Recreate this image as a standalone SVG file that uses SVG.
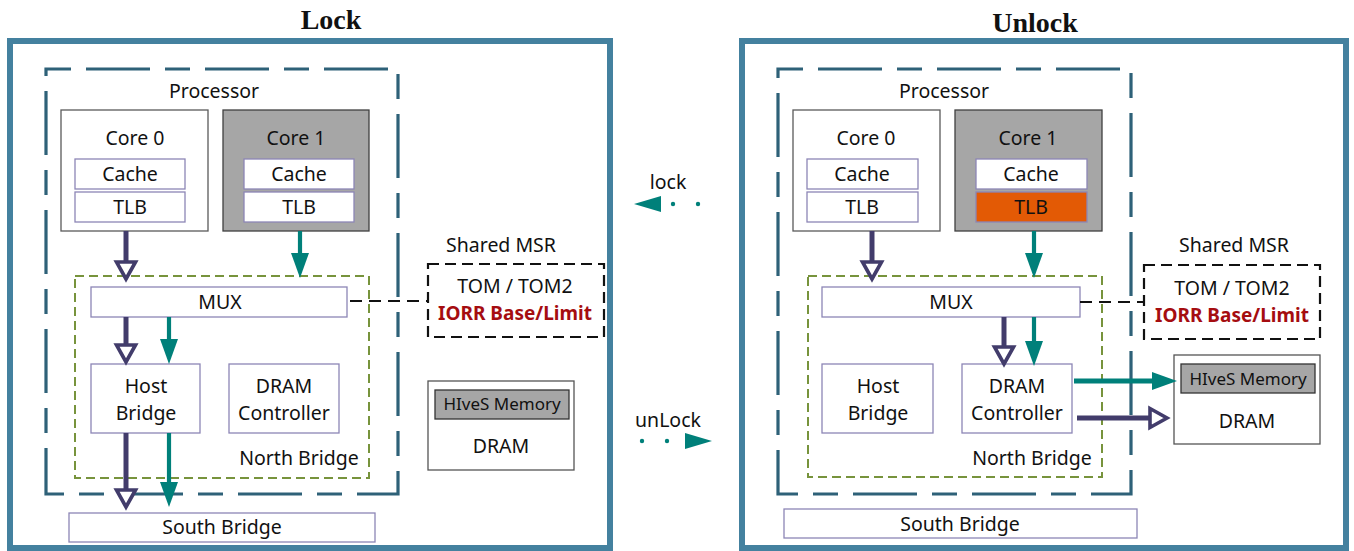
<svg xmlns="http://www.w3.org/2000/svg" width="1354" height="551" viewBox="0 0 1354 551">
<style>
.t{font-family:"Noto Sans","Liberation Sans",sans-serif;font-size:19.5px;fill:#111;text-anchor:middle}
.ttl{font-family:"Liberation Serif",serif;font-weight:bold;font-size:28px;fill:#111;text-anchor:middle}
.red{font-weight:bold;fill:#a50d10;font-size:19px}
.frame{fill:none;stroke:#44819f;stroke-width:6}
.proc{fill:none;stroke:#2e6178;stroke-width:3.2;stroke-dasharray:25 15 64 15}
.nb{fill:none;stroke:#77933c;stroke-width:2;stroke-dasharray:9 5}
.msr{fill:none;stroke:#111;stroke-width:2.2;stroke-dasharray:11 6}
.core0{fill:#fff;stroke:#5a5a5a;stroke-width:1.3}
.core1{fill:#a6a6a6;stroke:#404040;stroke-width:1.3}
.sub{fill:#fff;stroke:#8d86b6;stroke-width:1.3}
.orange{fill:#e35a05;stroke:#8d86b6;stroke-width:1.3}
.dram{fill:#fff;stroke:#555;stroke-width:1.3}
.hives{fill:#a6a6a6;stroke:#333;stroke-width:1.3}
.pa{stroke:#423c6b;stroke-width:5;fill:none;marker-end:url(#openP)}
.ta{stroke:#00807a;stroke-width:4.2;fill:none;marker-end:url(#fillT)}
.dash{stroke:#111;stroke-width:2.2;stroke-dasharray:12 7;fill:none}
.dot{fill:#00807a}
</style>
<defs>
<marker id="openP" markerUnits="userSpaceOnUse" viewBox="0 0 24 24" refX="2" refY="12" markerWidth="24" markerHeight="24" orient="auto" overflow="visible">
<path d="M2,2.5 L19,12 L2,21.5 Z" fill="#fff" stroke="#423c6b" stroke-width="3.6" stroke-linejoin="miter"/>
</marker>
<marker id="fillT" markerUnits="userSpaceOnUse" viewBox="0 0 25 18" refX="0" refY="9" markerWidth="25" markerHeight="18" orient="auto" overflow="visible">
<path d="M0,0 L25,9 L0,18 Z" fill="#00807a"/>
</marker>
</defs>

<text class="ttl" x="331" y="29">Lock</text>
<text class="ttl" x="1035" y="32">Unlock</text>

<!-- LEFT PANEL -->
<g id="lock-frame"><rect class="frame" x="10" y="41" width="600" height="507"/></g>
<g id="L-processor"><rect class="proc" x="46" y="69" width="352" height="425"/><text class="t" x="214" y="98">Processor</text></g>
<g id="L-core0"><rect class="core0" x="61" y="110" width="147" height="121"/><text class="t" x="135" y="145">Core 0</text></g>
<g id="L-core0-cache"><rect class="sub" x="75" y="159" width="110" height="30"/><text class="t" x="130" y="181">Cache</text></g>
<g id="L-core0-tlb"><rect class="sub" x="75" y="192" width="110" height="30"/><text class="t" x="130" y="214">TLB</text></g>
<g id="L-core1"><rect class="core1" x="223" y="110" width="146" height="121"/><text class="t" x="296" y="145">Core 1</text></g>
<g id="L-core1-cache"><rect class="sub" x="244" y="159" width="110" height="30"/><text class="t" x="299" y="181">Cache</text></g>
<g id="L-core1-tlb"><rect class="sub" x="244" y="192" width="110" height="30"/><text class="t" x="299" y="214">TLB</text></g>
<g id="L-northbridge"><rect class="nb" x="75" y="276" width="294" height="202"/><text class="t" x="299" y="465">North Bridge</text></g>
<g id="L-mux"><rect class="sub" x="91" y="287" width="256" height="30"/><text class="t" x="220" y="309">MUX</text></g>
<g id="L-host"><rect class="sub" x="91" y="364" width="109" height="69"/><text class="t" x="146" y="393">Host</text><text class="t" x="146" y="420">Bridge</text></g>
<g id="L-dramctrl"><rect class="sub" x="229" y="364" width="110" height="69"/><text class="t" x="284" y="393">DRAM</text><text class="t" x="284" y="420">Controller</text></g>
<g id="L-south"><rect class="sub" x="69" y="513" width="306" height="29"/><text class="t" x="222" y="534">South Bridge</text></g>
<g id="L-msr"><text class="t" x="501" y="252">Shared MSR</text><rect class="msr" x="428" y="264" width="176" height="73"/><text class="t" x="515" y="293">TOM / TOM2</text><text class="t red" x="515" y="320">IORR Base/Limit</text></g>
<g id="L-dram"><rect class="dram" x="428" y="381" width="146" height="89"/><rect class="hives" x="435" y="390" width="134" height="29"/><text class="t" x="502" y="410" style="font-size:17px">HIveS Memory</text><text class="t" x="501" y="453">DRAM</text></g>

<!-- MIDDLE -->
<g id="lock-transition"><text class="t" x="668" y="189">lock</text><path d="M634,204 L661,196 L661,212 Z" class="dot"/><circle class="dot" cx="673" cy="204" r="2.2"/><circle class="dot" cx="698" cy="204" r="2.2"/></g>
<g id="unlock-transition"><text class="t" x="668" y="427">unLock</text><circle class="dot" cx="642" cy="441" r="2.2"/><circle class="dot" cx="667" cy="441" r="2.2"/><path d="M712,441 L685,433 L685,449 Z" class="dot"/></g>

<!-- RIGHT PANEL -->
<g id="unlock-frame"><rect class="frame" x="742" y="41" width="604" height="507"/></g>
<g id="R-processor"><rect class="proc" x="778" y="69" width="353" height="425"/><text class="t" x="944" y="98">Processor</text></g>
<g id="R-core0"><rect class="core0" x="793" y="110" width="147" height="121"/><text class="t" x="866" y="145">Core 0</text></g>
<g id="R-core0-cache"><rect class="sub" x="807" y="159" width="111" height="30"/><text class="t" x="862" y="181">Cache</text></g>
<g id="R-core0-tlb"><rect class="sub" x="807" y="192" width="111" height="30"/><text class="t" x="862" y="214">TLB</text></g>
<g id="R-core1"><rect class="core1" x="955" y="110" width="147" height="121"/><text class="t" x="1028" y="145">Core 1</text></g>
<g id="R-core1-cache"><rect class="sub" x="976" y="159" width="111" height="30"/><text class="t" x="1031" y="181">Cache</text></g>
<g id="R-core1-tlb"><rect class="orange" x="976" y="192" width="111" height="30"/><text class="t" x="1031" y="214">TLB</text></g>
<g id="R-northbridge"><rect class="nb" x="808" y="276" width="294" height="201"/><text class="t" x="1032" y="465">North Bridge</text></g>
<g id="R-mux"><rect class="sub" x="822" y="287" width="258" height="30"/><text class="t" x="951" y="309">MUX</text></g>
<g id="R-host"><rect class="sub" x="822" y="364" width="111" height="69"/><text class="t" x="878" y="393">Host</text><text class="t" x="878" y="420">Bridge</text></g>
<g id="R-dramctrl"><rect class="sub" x="962" y="364" width="110" height="69"/><text class="t" x="1017" y="393">DRAM</text><text class="t" x="1017" y="420">Controller</text></g>
<g id="R-south"><rect class="sub" x="784" y="509" width="353" height="29"/><text class="t" x="960" y="531">South Bridge</text></g>
<g id="R-msr"><text class="t" x="1234" y="252">Shared MSR</text><rect class="msr" x="1144" y="265" width="176" height="74"/><text class="t" x="1232" y="295">TOM / TOM2</text><text class="t red" x="1232" y="322">IORR Base/Limit</text></g>
<g id="R-dram"><rect class="dram" x="1174" y="355" width="146" height="89"/><rect class="hives" x="1181" y="364" width="134" height="29"/><text class="t" x="1248" y="385" style="font-size:17px">HIveS Memory</text><text class="t" x="1247" y="428">DRAM</text></g>

<!-- CONNECTORS -->
<g id="connectors">
<line class="dash" x1="350" y1="301" x2="428" y2="301"/>
<line class="pa" x1="126" y1="231" x2="126" y2="262"/>
<line class="ta" x1="300" y1="231" x2="300" y2="253"/>
<line class="pa" x1="126" y1="317" x2="126" y2="345"/>
<line class="ta" x1="169" y1="317" x2="169" y2="339"/>
<line class="pa" x1="126" y1="433" x2="126" y2="490"/>
<line class="ta" x1="169" y1="433" x2="169" y2="482"/>

<line class="dash" x1="1080" y1="302" x2="1144" y2="302"/>
<line class="pa" x1="872" y1="231" x2="872" y2="262"/>
<line class="ta" x1="1034" y1="231" x2="1034" y2="253"/>
<line class="pa" x1="1004" y1="317" x2="1004" y2="347"/>
<line class="ta" x1="1034" y1="317" x2="1034" y2="341"/>
<line class="ta" x1="1074" y1="381" x2="1152" y2="381" style="stroke-width:5"/>
<line class="pa" x1="1077" y1="418" x2="1150" y2="418"/>
</g>
</svg>
